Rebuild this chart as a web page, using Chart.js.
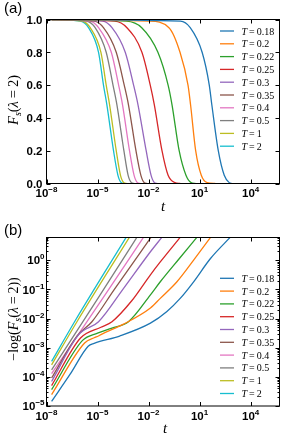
<!DOCTYPE html>
<html>
<head>
<meta charset="utf-8">
<script src="https://cdn.jsdelivr.net/npm/chart.js@4.4.1/dist/chart.umd.min.js"></script>
<style>
  body { margin: 0; background: #fff; }
  .panel { position: absolute; left: 0; width: 290px; height: 223px; }
</style>
</head>
<body>
<div class="panel" style="top:0"><canvas id="chartA" width="290" height="223"></canvas></div>
<div class="panel" style="top:223px"><canvas id="chartB" width="290" height="223"></canvas></div>
<script>
// temperatures (legend) and matplotlib default colours
let temps = ["0.18", "0.2", "0.22", "0.25", "0.3", "0.35", "0.4", "0.5", "1", "2"];
let lineColors = ["#1f77b4", "#ff7f0e", "#2ca02c", "#d62728", "#9467bd",
                  "#8c564b", "#e377c2", "#7f7f7f", "#bcbd22", "#17becf"];

// panel (a): Fs levels, and log10(t) where each curve passes them
let fsLevels = [1, 0.99, 0.95, 0.8, 0.6, 0.48, 0.2, 0.05, 0.005, 0];
let fsLogT = [
  [-7.7, -0.13,  0.45,  1.15,  1.57,  1.72,  2.10,  2.45,  2.75,  2.91],
  [-7.7, -2.0,  -0.80, -0.15,  0.32,  0.47,  0.77,  1.10,  1.45,  1.92],
  [-7.7, -3.3,  -2.40, -1.45, -0.85, -0.62, -0.20,  0.20,  0.50,  0.75],
  [-7.7, -4.0,  -3.27, -2.39, -1.90, -1.66, -1.21, -0.85, -0.45, -0.14],
  [-7.7, -4.7,  -4.15, -3.37, -2.88, -2.62, -2.14, -1.85, -1.65, -1.50],
  [-7.7, -5.2,  -4.65, -3.90, -3.43, -3.18, -2.74, -2.45, -2.25, -2.10],
  [-7.7, -5.45, -4.94, -4.19, -3.76, -3.53, -3.12, -2.85, -2.65, -2.50],
  [-7.7, -5.65, -5.14, -4.49, -4.09, -3.86, -3.45, -3.20, -3.00, -2.85],
  [-7.7, -5.9,  -5.43, -4.80, -4.49, -4.29, -3.90, -3.65, -3.45, -3.30],
  [-7.7, -6.0,  -5.53, -4.94, -4.65, -4.45, -4.06, -3.80, -3.60, -3.45]
];

// panel (b): log10(t) and log10(-log Fs)
let mlLogT = [
  [-7.7, -6.6, -5.55, -5.2, -3.7, -1.89, -0.92, -0.14, 0.65, 1.63, 2.81],
  [-7.7, -5.76, -5.2, -4.95, -4.8, -3.5, -1.89, -1.31, -0.33, 0.65, 1.73],
  [-7.7, -5.88, -5.0, -4.15, -3.18, -1.89, -1.31, -0.2, 0.85],
  [-7.7, -6.0, -4.8, -4.15, -3.0, -1.89, -1.31, -0.13],
  [-7.7, -6.12, -4.94, -3.51, -1.89, -1.21],
  [-7.7, -6.2, -5.33, -4.01, -1.85],
  [-7.7, -5.62, -4.34, -2.29],
  [-7.7, -5.86, -4.64, -2.68],
  [-7.7, -6.21, -3.12],
  [-7.7, -6.35, -3.31]
];
let mlLogV = [
  [-4.84, -3.9, -2.95, -2.85, -2.6, -2.16, -1.76, -1.31, -0.74, 0.05, 0.79],
  [-4.61, -2.84, -2.66, -2.60, -2.55, -2.2, -1.64, -1.31, -0.74, 0.0, 0.85],
  [-4.44, -2.75, -2.5, -2.33, -2.11, -1.19, -0.74, 0.05, 0.79],
  [-4.30, -2.67, -2.3, -2.11, -1.4, -0.5, -0.06, 0.79],
  [-4.16, -2.56, -2.11, -1.0, 0.29, 0.79],
  [-4.04, -2.6, -2.11, -1.0, 0.79],
  [-3.89, -2.11, -1.0, 0.79],
  [-3.76, -2.11, -1.0, 0.79],
  [-3.59, -2.11, 0.79],
  [-3.47, -2.11, 0.79]
];

let xTicks = [1e-8, 1e-5, 1e-2, 1e1, 1e4];
let fsTicks = [0, 0.2, 0.4, 0.6, 0.8, 1.0];
let mlTicks = [1e-5, 1e-4, 1e-3, 1e-2, 1e-1, 1];

const SERIF = "'Liberation Serif', 'DejaVu Serif', serif";
const SANS = "'Liberation Sans', Arial, sans-serif";
const TICKFONT = "bold 11.5px " + SANS;
const EXPFONT = "bold 8px " + SANS;

// draw a run of text pieces [text, font, dy]; align "center" or "left" / "right"
function drawRich(ctx, pieces, x0, y0, rotate, align) {
  ctx.save();
  ctx.translate(x0, y0);
  if (rotate) ctx.rotate(-Math.PI / 2);
  ctx.textBaseline = "alphabetic";
  ctx.textAlign = "left";
  let w = 0;
  pieces.forEach(p => { ctx.font = p[1]; w += ctx.measureText(p[0]).width; });
  let x = align === "left" ? 0 : align === "right" ? -w : -w / 2;
  pieces.forEach(p => {
    ctx.font = p[1];
    ctx.fillText(p[0], x, p[2]);
    x += ctx.measureText(p[0]).width;
  });
  ctx.restore();
}

function powPieces(v) {
  const e = String(Math.round(Math.log10(v))).replace("-", "\u2212");
  return [["10", TICKFONT, 0], [e, EXPFONT, -5]];
}

const framePlugin = {
  id: "frame",
  afterDatasetsDraw(chart, args, opts) {
    const ctx = chart.ctx, a = chart.chartArea;
    const sx = chart.scales.x, sy = chart.scales.y;
    ctx.save();
    ctx.strokeStyle = "#000";
    ctx.lineWidth = 1;
    ctx.strokeRect(a.left, a.top, a.right - a.left, a.bottom - a.top);
    const seg = (x1, y1, x2, y2) => { ctx.beginPath(); ctx.moveTo(x1, y1); ctx.lineTo(x2, y2); ctx.stroke(); };
    opts.xMajor.forEach(v => {
      const x = Math.round(sx.getPixelForValue(v)) + 0.5;
      seg(x, a.bottom, x, a.bottom - 4);
      seg(x, a.top, x, a.top + 4);
    });
    opts.yMajor.forEach(v => {
      const y = Math.round(sy.getPixelForValue(v)) + 0.5;
      seg(a.left, y, a.left + 4, y);
      seg(a.right, y, a.right - 4, y);
    });
    (opts.yMinor || []).forEach(v => {
      const y = Math.round(sy.getPixelForValue(v)) + 0.5;
      seg(a.left, y, a.left + 2, y);
      seg(a.right, y, a.right - 2, y);
    });

    // legend inside the axes
    chart.data.datasets.forEach((d, i) => {
      const y = opts.legendY + i * 12.8;
      ctx.strokeStyle = d.borderColor;
      ctx.lineWidth = 1.3;
      seg(220, y, 234, y);
      ctx.fillStyle = "#000";
      drawRich(ctx, [["T", "italic 10px " + SERIF, 3.5], ["\u2009=\u2009" + temps[i], "10px " + SERIF, 3.5]],
               241.5, y, false, "left");
    });
    ctx.restore();
  },
  afterDraw(chart, args, opts) {
    const ctx = chart.ctx, a = chart.chartArea;
    const sx = chart.scales.x, sy = chart.scales.y;
    ctx.save();
    ctx.fillStyle = "#000";
    // tick labels
    xTicks.forEach(v => drawRich(ctx, powPieces(v), sx.getPixelForValue(v), a.bottom + 13.5, false, "center"));
    opts.yMajor.forEach(v => {
      const y = sy.getPixelForValue(v) + 4.2;
      const pieces = opts.yLog ? powPieces(v) : [[v.toFixed(1), TICKFONT, 0]];
      drawRich(ctx, pieces, a.left - opts.yPad, y, false, "right");
    });
    // panel letter, axis titles
    ctx.font = "15px " + SANS;
    ctx.textBaseline = "alphabetic";
    ctx.textAlign = "left";
    ctx.fillText(opts.panel, 4, opts.panelY);
    drawRich(ctx, [["t", "italic 15px " + SERIF, 0]], opts.tX, opts.tY, false);
    drawRich(ctx, opts.yTitle, 17.5, opts.yTitleY, true);
    ctx.restore();
  }
};

function makeChart(id, datasets, yScale, frameOpts, pad) {
  return new Chart(document.getElementById(id), {
    type: "line",
    data: { datasets: datasets },
    options: {
      responsive: false,
      animation: false,
      devicePixelRatio: 1,
      layout: { padding: pad },
      elements: { point: { radius: 0 }, line: { borderWidth: 1.3, cubicInterpolationMode: "monotone" } },
      plugins: { legend: { display: false }, tooltip: { enabled: false }, frame: frameOpts },
      scales: {
        x: {
          type: "logarithmic",
          min: 1e-8, max: 5e5,
          grid: { display: false },
          border: { display: false },
          afterBuildTicks: s => { s.ticks = xTicks.map(v => ({ value: v })); },
          afterFit: s => { s.height = 30; },
          ticks: { display: false }
        },
        y: yScale
      }
    },
    plugins: [framePlugin]
  });
}

// panel (a)
let dataA = temps.map((t, i) => ({
  label: "T=" + t,
  borderColor: lineColors[i],
  data: fsLogT[i].map((lt, j) => ({ x: Math.pow(10, lt), y: fsLevels[j] }))
}));
makeChart("chartA", dataA, {
  type: "linear", min: 0, max: 1,
  grid: { display: false },
  border: { display: false },
  afterBuildTicks: s => { s.ticks = fsTicks.map(v => ({ value: v })); },
  afterFit: s => { s.width = 46.5; },
  ticks: { display: false }
}, {
  xMajor: xTicks, yMajor: fsTicks, yLog: false, yPad: 4, legendY: 31,
  panel: "(a)", panelY: 13, tX: 163, tY: 211,
  yTitleY: 100,
  yTitle: [["F", "italic 14.5px " + SERIF, 0], ["s", "italic 10px " + SERIF, 3],
           ["(", "14.5px " + SERIF, 0], ["λ", "italic 14.5px " + SERIF, 0],
           ["\u2009=\u20092)", "14.5px " + SERIF, 0]]
}, { left: 0, right: 10.5, top: 19.5, bottom: 9.5 });

// panel (b)
let minorB = [];
mlTicks.slice(0, 5).forEach(d => { for (let k = 2; k <= 9; k++) minorB.push(d * k); });
minorB.push(2, 3, 4, 5, 6);
let dataB = temps.map((t, i) => ({
  label: "T=" + t,
  borderColor: lineColors[i],
  data: mlLogT[i].map((lt, j) => ({ x: Math.pow(10, lt), y: Math.pow(10, mlLogV[i][j]) }))
}));
makeChart("chartB", dataB, {
  type: "logarithmic", min: 1e-5, max: 6,
  grid: { display: false },
  border: { display: false },
  afterBuildTicks: s => { s.ticks = mlTicks.map(v => ({ value: v })); },
  afterFit: s => { s.width = 46.5; },
  ticks: { display: false }
}, {
  xMajor: xTicks, yMajor: mlTicks, yMinor: minorB, yLog: true, yPad: 2, legendY: 55.3,
  panel: "(b)", panelY: 12, tX: 165, tY: 210,
  yTitleY: 96,
  yTitle: [["\u2212log(", "14px " + SERIF, 0], ["F", "italic 14px " + SERIF, 0],
           ["s", "italic 10px " + SERIF, 3], ["(", "14px " + SERIF, 0],
           ["λ", "italic 14px " + SERIF, 0], ["\u2009=\u20092))", "14px " + SERIF, 0]]
}, { left: 0, right: 10.5, top: 14.5, bottom: 10 });
</script>
</body>
</html>
